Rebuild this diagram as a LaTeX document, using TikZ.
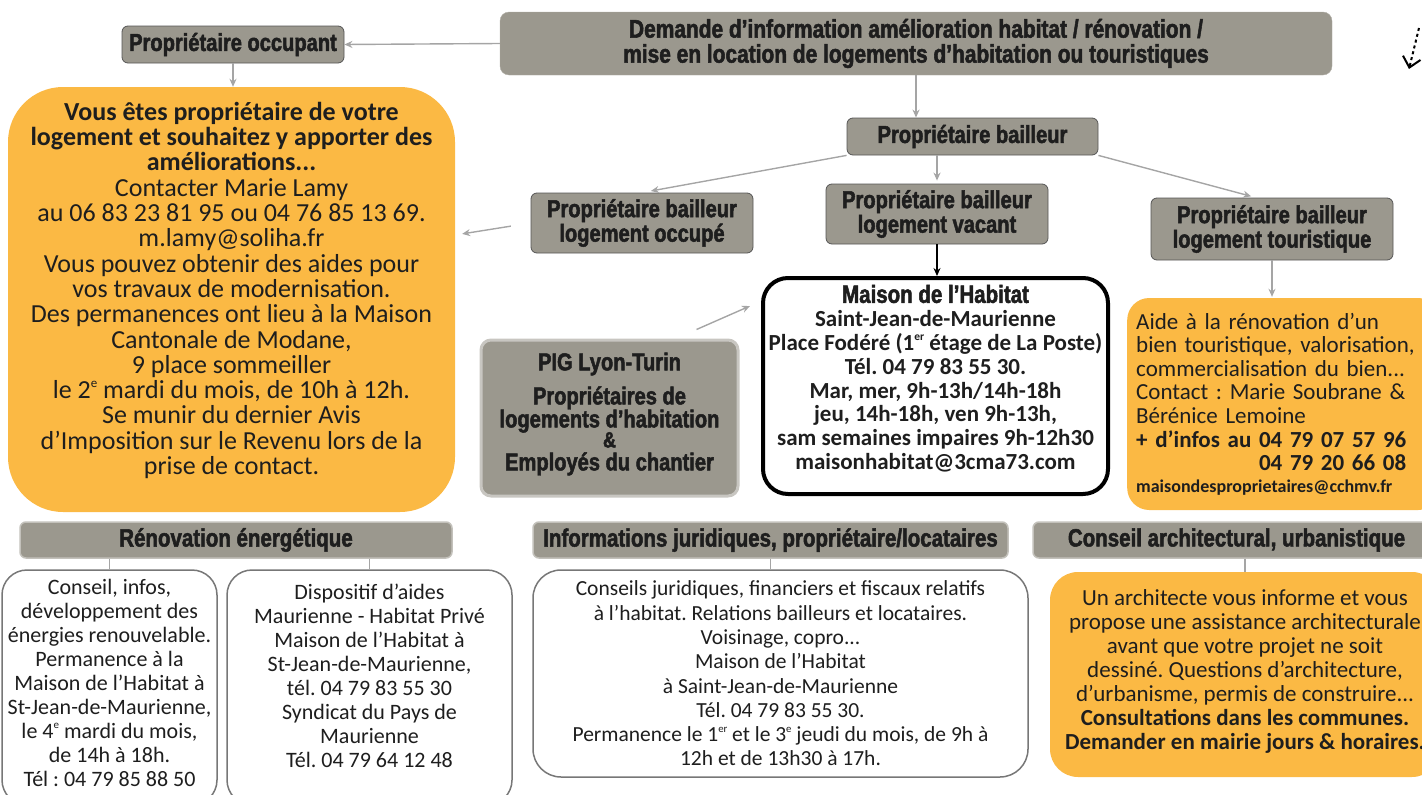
\documentclass[tikz,border=0pt]{standalone}
\usepackage{fontspec}
\setmainfont{Carlito}
\newfontfamily\headfont{Liberation Sans Bold}[FakeStretch=0.82,FakeBold=2]
\usetikzlibrary{arrows.meta}
\frenchspacing

\makeatletter
\newcommand\ord[1]{\raisebox{.42em}{\fontsize{\strip@pt\dimexpr\f@size pt/2\relax}{0}\selectfont #1}}
\makeatother

\definecolor{taupe}{RGB}{155,152,142}
\definecolor{ochre}{RGB}{251,185,68}
\definecolor{wire}{RGB}{165,165,165}
\definecolor{rim}{RGB}{85,85,85}
\definecolor{ink}{RGB}{30,30,30}

\begin{document}
\begin{tikzpicture}[x=1pt,y=-1pt]
\useasboundingbox (0,0) rectangle (1422,795);

\begin{scope}[every node/.style={fill=taupe,text=ink,align=center,inner sep=0pt,rounded corners=6pt,font=\headfont\fontsize{24.5}{24.5}\selectfont}]
	\node (demande) [draw=taupe!80!white,rounded corners=9pt,minimum width=832pt,minimum height=63pt,font=\headfont\fontsize{25.5}{25}\selectfont] at (916,43.5) {Demande d’information amélioration habitat / rénovation /\\mise en location de logements d’habitation ou touristiques};
	\node (occupant) [draw=rim,thick,minimum width=222pt,minimum height=37pt] at (233,44.5) {Propriétaire occupant};
	\node (bailleur) [draw=rim,thick,minimum width=251pt,minimum height=37pt] at (972.5,136.5) {Propriétaire bailleur};
	\node (occupe) [draw=rim,thick,minimum width=222pt,minimum height=60pt] at (642,223) {Propriétaire bailleur\\logement occupé};
	\node (vacant) [draw=rim,thick,minimum width=222pt,minimum height=60pt] at (937,214) {Propriétaire bailleur\\logement vacant};
	\node (tourist) [draw=rim,thick,minimum width=242pt,minimum height=62pt] at (1272,229) {Propriétaire bailleur\\logement touristique};
	\node (pig) [draw=taupe!55!white,line width=3pt,rounded corners=10pt,minimum width=257pt,minimum height=156pt,font=\headfont\fontsize{24.5}{23}\selectfont] at (609.5,418) {PIG Lyon-Turin\\[10pt]Propriétaires de\\logements d’habitation\\[-3pt]{\headfont\fontsize{22}{22}\selectfont\&}\\[0pt]Employés du chantier\\[-10pt]\mbox{}};
	\node (renov) [draw=taupe!60!white,line width=1.5pt,minimum width=432pt,minimum height=36pt,font=\headfont\fontsize{25}{25}\selectfont] at (236,540) {Rénovation énergétique};
	\node (juri) [draw=taupe!60!white,line width=1.5pt,minimum width=475pt,minimum height=36pt,font=\headfont\fontsize{25}{25}\selectfont] at (770.5,540) {Informations juridiques, propriétaire/locataires};
	\node (archi) [draw=taupe!60!white,line width=1.5pt,minimum width=407pt,minimum height=36pt,font=\headfont\fontsize{25}{25}\selectfont] at (1236.5,540) {Conseil architectural, urbanistique};
\end{scope}

\begin{scope}[every node/.style={align=center,inner sep=0pt,text=ink,font=\fontsize{22}{24}\selectfont}]
	\node (ownL) [fill=ochre,rounded corners=55pt,minimum width=447pt,minimum height=425pt,font=\fontsize{26}{25.3}\selectfont] at (231.5,299.5) {\textbf{Vous êtes propriétaire de votre}\\\textbf{logement et souhaitez y apporter des}\\\textbf{améliorations...}\\Contacter Marie Lamy\\au 06 83 23 81 95 ou 04 76 85 13 69.\\m.lamy@soliha.fr\\Vous pouvez obtenir des aides pour\\vos travaux de modernisation.\\Des permanences ont lieu à la Maison\\Cantonale de Modane,\\9 place sommeiller\\le 2\ord{e} mardi du mois, de 10h à 12h.\\Se munir du dernier Avis\\d’Imposition sur le Revenu lors de la\\prise de contact.\\[-3pt]\mbox{}};
	\node (maison) [draw=black,fill=white,line width=4pt,rounded corners=25pt,minimum width=345pt,minimum height=216pt,font=\bfseries\fontsize{23}{23.8}\selectfont] at (935.5,386) {{\headfont\fontsize{25}{24}\selectfont Maison de l’Habitat}\\Saint-Jean-de-Maurienne\\Place Fodéré (1\ord{er} étage de La Poste)\\Tél. 04 79 83 55 30.\\Mar, mer, 9h-13h/14h-18h\\jeu, 14h-18h, ven 9h-13h,\\sam semaines impaires 9h-12h30\\maisonhabitat@3cma73.com\\[-6pt]\mbox{}};
	\node (ownR) [fill=ochre,rounded corners=22pt,anchor=west,align=left,text width=295pt,inner xsep=9pt,minimum height=212pt,font=\fontsize{23}{23.6}\selectfont] at (1127,404) {Aide à la rénovation d’un\\bien touristique, valorisation,\\commercialisation du bien...\\Contact : Marie Soubrane \&\\Bérénice Lemoine\\\textbf{+ d’infos au 04 79 07 57 96}\\\textbf{\phantom{+ d’infos au }04 79 20 66 08}\\[-2pt]{\bfseries\fontsize{18}{22}\selectfont maisondesproprietaires@cchmv.fr}};
	\node (energie) [draw=rim!80!white,fill=white,line width=1.5pt,rounded corners=25pt,minimum width=215pt,minimum height=235pt] at (109.5,687.5) {Conseil, infos,\\développement des\\énergies renouvelable.\\Permanence à la\\Maison de l’Habitat à\\St-Jean-de-Maurienne,\\le 4\ord{e} mardi du mois,\\de 14h à 18h.\\Tél : 04 79 85 88 50\\[-14pt]\mbox{}};
	\node (aides) [draw=rim!80!white,fill=white,line width=1.5pt,rounded corners=25pt,minimum width=285pt,minimum height=235pt] at (369.5,687.5) {Dispositif d’aides\\Maurienne - Habitat Privé\\Maison de l’Habitat à\\St-Jean-de-Maurienne,\\tél. 04 79 83 55 30\\Syndicat du Pays de\\Maurienne\\Tél. 04 79 64 12 48\\\mbox{}};
	\node (conseils) [draw=rim!80!white,fill=white,line width=1.5pt,rounded corners=28pt,minimum width=495pt,minimum height=207pt,font=\fontsize{21.5}{24.3}\selectfont] at (780.5,673.5) {Conseils juridiques, financiers et fiscaux relatifs\\à l'habitat. Relations bailleurs et locataires.\\Voisinage, copro...\\Maison de l’Habitat\\à Saint-Jean-de-Maurienne\\Tél. 04 79 83 55 30.\\Permanence le 1\ord{er} et le 3\ord{e} jeudi du mois, de 9h à\\12h et de 13h30 à 17h.};
	\node (architecte) [fill=ochre,rounded corners=28pt,minimum width=390pt,minimum height=205pt,font=\fontsize{23}{24}\selectfont] at (1245,674.5) {Un architecte vous informe et vous\\propose une assistance architecturale\\avant que votre projet ne soit\\dessiné. Questions d’architecture,\\d’urbanisme, permis de construire...\\\textbf{Consultations dans les communes.}\\\textbf{Demander en mairie jours \& horaires.}\\[-14pt]\mbox{}};
\end{scope}

\begin{scope}[>={Stealth[length=8pt,width=7pt]},
every edge/.style={draw=wire,line width=1.4pt}]
	\path [->] (demande.west) edge (occupant.east);
	\path [->] (occupant.south) edge (occupant.south |- ownL.north);
	\path [->] (demande.south) edge (demande.south |- bailleur.north);
	\path [->] (bailleur.south west) edge[shorten >=9pt] (occupe.north);
	\path [->] (vacant.north |- bailleur.south) edge[shorten >=3pt] (vacant.north);
	\path [->] (bailleur.south east) edge[shorten >=5pt] ([xshift=-16pt]tourist.north);
	\path [->] (occupe.west) edge[shorten <=20pt,shorten >=7pt] ([yshift=-12pt]occupe.west -| ownL.east);
	\path [->] ([shift={(-43pt,9pt)}]pig.north east) edge ([shift={(-11pt,-30pt)}]maison.north west);
	\path [->] (tourist.south) edge[shorten >=1pt] (tourist.south |- ownR.north);
	\path [->] (vacant.south) edge[draw=black,line width=1.6pt] (vacant.south |- maison.north);
	\path (energie.north |- renov.south) edge (energie.north);
	\path (aides.north |- renov.south) edge (aides.north);
	\path (juri.south) edge (juri.south |- conseils.north);
	\path (architecte.north |- archi.south) edge (architecte.north);
\end{scope}

\coordinate (tick) at (1419,28);
\coordinate (tock) at (1409,69);
\draw [dashed,line width=2pt,-{Straight Barb[length=10pt,width=18pt]}] (tick) -- (tock);

\end{tikzpicture}
\end{document}
